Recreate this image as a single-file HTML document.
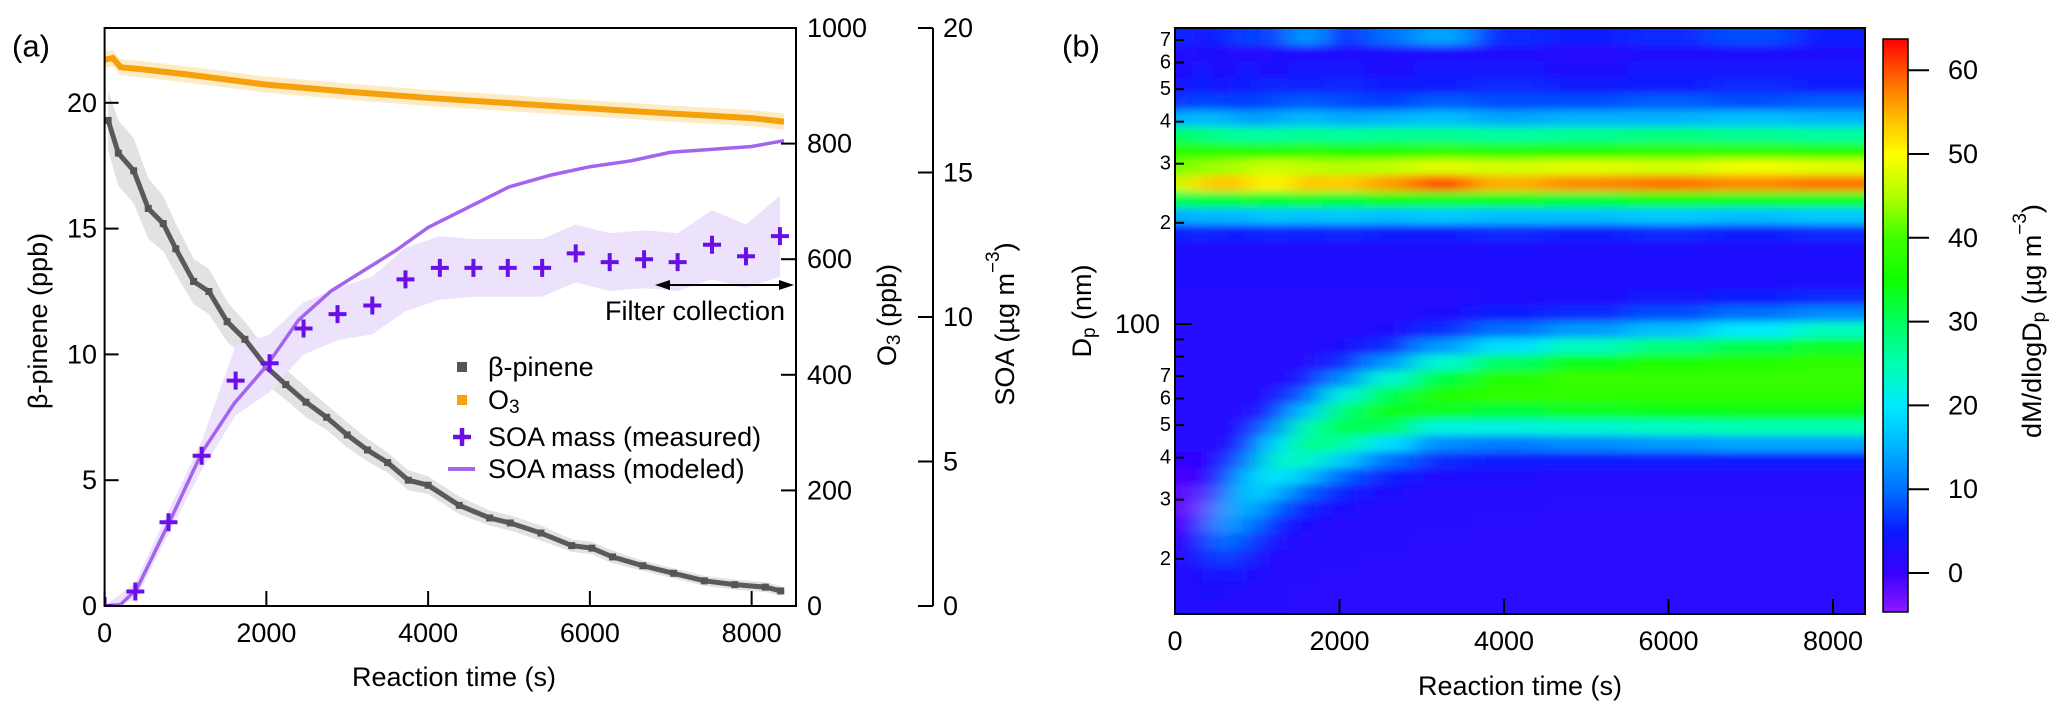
<!DOCTYPE html>
<html><head><meta charset="utf-8"><style>
html,body{margin:0;padding:0;background:#fff}
svg{display:block;font-family:"Liberation Sans",Arial,sans-serif}
</style></head><body>
<svg id="fig" width="2067" height="720" viewBox="0 0 2067 720" xmlns="http://www.w3.org/2000/svg">
<rect x="0" y="0" width="2067" height="720" fill="#fff"/>
<defs>
<clipPath id="clipL"><rect x="104.6" y="28" width="691.4" height="578"/></clipPath>
<clipPath id="clipH"><rect x="1175" y="28" width="690" height="586"/></clipPath>
<filter id="blurH" x="-5%" y="-5%" width="110%" height="110%"><feGaussianBlur stdDeviation="16 4" edgeMode="duplicate"/></filter>
<linearGradient id="cbar" x1="0" y1="1" x2="0" y2="0">
<stop offset="0" stop-color="#8c1aff"/><stop offset="0.067" stop-color="#3a00ff"/>
<stop offset="0.141" stop-color="#0a1aff"/><stop offset="0.214" stop-color="#0070ff"/>
<stop offset="0.287" stop-color="#00b4ff"/><stop offset="0.360" stop-color="#00eaff"/>
<stop offset="0.433" stop-color="#00ffb0"/><stop offset="0.507" stop-color="#00ff60"/>
<stop offset="0.580" stop-color="#10ff00"/><stop offset="0.653" stop-color="#40ff00"/>
<stop offset="0.726" stop-color="#b0ff00"/><stop offset="0.799" stop-color="#ffff00"/>
<stop offset="0.873" stop-color="#ffb000"/><stop offset="0.946" stop-color="#ff5000"/>
<stop offset="1" stop-color="#ff0000"/>
</linearGradient>
</defs>
<g id="panelA"></g>
<g id="panelB"></g>
</svg>
<script>
// ---------- Panel (a) data ----------
const pineneTimes = [44,170,360,540,725,880,1100,1290,1515,1735,2000,2240,2490,2745,3000,3250,3500,3755,4000,4385,4760,5015,5395,5775,6025,6280,6655,7035,7415,7790,8170,8360];
const pineneValues = [19.3,18.0,17.3,15.8,15.2,14.2,12.9,12.5,11.3,10.6,9.5,8.8,8.1,7.5,6.8,6.2,5.7,5.0,4.8,4.0,3.5,3.3,2.9,2.4,2.3,1.95,1.6,1.3,1.0,0.85,0.75,0.6];
const pineneUnc = [1.2,1.3,1.3,1.2,1.1,1.0,0.9,0.9,0.8,0.7,0.7,0.6,0.6,0.5,0.5,0.45,0.4,0.4,0.35,0.35,0.3,0.3,0.3,0.25,0.25,0.25,0.2,0.2,0.2,0.2,0.2,0.2];
const o3Times = [0,100,200,500,1000,2000,3000,4000,5000,6000,7000,8000,8400];
const o3Values = [945,948,932,928,920,902,890,879,870,861,852,844,838];
const o3Unc = 14;
const soaTimes = [0,380,790,1200,1620,2040,2460,2880,3310,3720,4145,4560,4985,5410,5825,6245,6670,7085,7510,7930,8350];
const soaValues = [0,0.5,2.9,5.2,7.8,8.4,9.6,10.1,10.4,11.3,11.7,11.7,11.7,11.7,12.2,11.9,12.0,11.9,12.5,12.1,12.8];
const soaSd = [0,0.3,0.4,0.5,1.2,1.0,0.9,0.9,1.0,1.1,1.1,1.0,1.0,1.0,1.0,1.0,1.0,1.0,1.2,1.1,1.4];
const modelTimes = [0,200,400,800,1200,1600,2000,2400,2800,3200,3600,4000,4500,5000,5500,6000,6500,7000,7500,8000,8400];
const modelValues = [0,0.05,0.6,2.9,5.3,7.0,8.3,9.9,10.9,11.6,12.3,13.1,13.8,14.5,14.9,15.2,15.4,15.7,15.8,15.9,16.1];
const xTicksA = [0,2000,4000,6000,8000];
const yTicksPinene = [0,5,10,15,20];
const yTicksO3 = [0,200,400,600,800,1000];
const yTicksSOA = [0,5,10,15,20];

// ---------- Panel (b) data ----------
const hmTimes = [0,300,600,900,1200,1600,2000,2600,3200,4000,5000,6000,7000,8000];
const hmDiameters = [14.5,16.2,18.1,20.2,22.6,25.3,28.3,31.6,35.3,39.5,44.2,49.4,55.2,61.7,69.0,77.1,86.3,96.4,108,120,135,151,168,188,210,235,263,294,329,367,411,459,513,574,641,717];
const hmCol0 = [2,2,2,1.5,0,-1,-2,-2,-1,1,2,2,2,2,2,2,2,2,2,2,3,3,3,5,14,30,46,42,38,30,14,6,4,3,2,6];
const hmCol1 = [3,3,3,4,3,-1,-3,-2,0,1,2,2,2,2,2,2,2,2,2,2,3,3,3,6,16,32,52,44,36,28,16,8,5,4,3,4];
const hmCol2 = [2,3,5,8,11,14,13,9,5,3,2,2,2,2,2,2,2,2,2,2,3,3,3,5,15,31,55,44,38,27,15,7,4,3,3,5];
const hmCol3 = [2,2,3,4,7,11,16,19,17,11,6,3,2,2,2,2,2,2,2,2,3,3,3,5,16,33,52,46,37,26,13,7,5,4,2,8];
const hmCol4 = [2,2,2,2,3,5,9,15,21,23,19,12,6,3,2,2,2,2,2,2,3,3,3,6,17,32,50,47,36,26,14,8,6,3,3,6];
const hmCol5 = [1.5,1.5,2,2,2,3,5,9,16,24,28,25,17,9,4,2,2,2,2,2,3,3,3,5,16,33,54,46,38,27,16,9,5,4,3,14];
const hmCol6 = [1.5,1.5,1.5,2,2,2,3,5,9,17,26,31,29,22,12,6,3,2,2,2,3,3,3,6,17,32,53,45,36,26,14,8,6,4,3,5];
const hmCol7 = [1.5,1.5,1.5,1.5,2,2,2,3,5,10,19,30,34,31,23,13,6,3,2,2,3,3,3,5,16,34,56,46,37,27,15,7,5,3,3,10];
const hmCol8 = [1.5,1.5,1.5,1.5,1.5,2,2,2,3,6,12,22,33,36,32,23,13,6,3,2,3,3,3,5,17,33,60,48,38,27,16,9,5,4,3,14];
const hmCol9 = [1.5,1.5,1.5,1.5,1.5,1.5,2,2,3,5,11,22,32,38,37,30,19,10,5,3,3,3,3,6,16,33,55,47,37,26,14,8,6,4,3,6];
const hmCol10 = [1.5,1.5,1.5,1.5,1.5,1.5,1.5,2,2,5,12,23,33,38,39,34,24,13,6,3,3,3,3,5,16,32,57,48,37,27,15,8,5,3,2,5];
const hmCol11 = [1.5,1.5,1.5,1.5,1.5,1.5,1.5,2,2,5,13,24,34,38,39,36,28,16,8,4,3,3,3,6,17,34,58,47,38,28,15,9,5,4,3,6];
const hmCol12 = [1.5,1.5,1.5,1.5,1.5,1.5,1.5,2,2,5,14,25,34,38,39,37,31,20,10,5,3,3,3,5,16,33,57,49,38,27,16,8,6,4,3,8];
const hmCol13 = [1.5,1.5,1.5,1.5,1.5,1.5,1.5,2,2,5,14,25,34,38,39,38,33,24,12,6,3,3,3,6,17,33,58,48,37,26,15,9,5,4,3,5];
const hmColumns = [hmCol0,hmCol1,hmCol2,hmCol3,hmCol4,hmCol5,hmCol6,hmCol7,hmCol8,hmCol9,hmCol10,hmCol11,hmCol12,hmCol13];
const xTicksB = [0,2000,4000,6000,8000];
const yMinorB = [20,30,40,50,60,70,80,90,200,300,400,500,600,700];
const yMinorLabels = ["2","3","4","5","6","7","","","2","3","4","5","6","7"];
const cbTicks = [0,10,20,30,40,50,60];

// ---------- helpers ----------
const NS = "http://www.w3.org/2000/svg";
function mk(tag, attrs, parent){const e=document.createElementNS(NS,tag);for(const k in attrs)e.setAttribute(k,attrs[k]);parent.appendChild(e);return e;}
const A = document.getElementById('panelA');
const B = document.getElementById('panelB');

const AX0=104.6, AX1=796, AY0=606, AY1=28;
const xA = t => AX0 + t*0.08088;
const yP = v => AY0 - v*25.16;
const yO = v => AY0 - v*0.578;
const yS = v => AY0 - v*28.9;

const gA = mk('g',{'clip-path':'url(#clipL)'},A);
let up=[],lo=[];
pineneTimes.forEach((t,i)=>{up.push(xA(t)+','+yP(pineneValues[i]+pineneUnc[i]));lo.unshift(xA(t)+','+yP(Math.max(0,pineneValues[i]-pineneUnc[i])));});
let el=mk('polygon',{points:up.concat(lo).join(' '),fill:'#e2e2e2'},gA);


up=[];lo=[];
o3Times.forEach((t,i)=>{up.push(xA(t)+','+yO(o3Values[i]+o3Unc));lo.unshift(xA(t)+','+yO(o3Values[i]-o3Unc));});
el=mk('polygon',{points:up.concat(lo).join(' '),fill:'#fdebc4'},gA);


up=[];lo=[];
soaTimes.forEach((t,i)=>{up.push(xA(t)+','+yS(soaValues[i]+soaSd[i]));lo.unshift(xA(t)+','+yS(Math.max(0,soaValues[i]-soaSd[i])));});
el=mk('polygon',{points:up.concat(lo).join(' '),fill:'#ece2fb'},gA);


el=mk('polyline',{points:o3Times.map((t,i)=>xA(t)+','+yO(o3Values[i])).join(' '),fill:'none',stroke:'#f6a10c','stroke-width':6},gA);


el=mk('polyline',{points:pineneTimes.map((t,i)=>xA(t)+','+yP(pineneValues[i])).join(' '),fill:'none',stroke:'#5a5a5a','stroke-width':5},gA);


pineneTimes.forEach((t,i)=>{
  const m=mk('rect',{x:xA(t)-3.5,y:yP(pineneValues[i])-3.5,width:7,height:7,fill:'#555'},gA);
  
  
});
el=mk('polyline',{points:modelTimes.map((t,i)=>xA(t)+','+yS(modelValues[i])).join(' '),fill:'none',stroke:'#a465ee','stroke-width':3.5,'stroke-linejoin':'round'},gA);


soaTimes.forEach((t,i)=>{
  const cx=xA(t), cy=yS(soaValues[i]);
  const m=mk('path',{d:`M${cx-9},${cy}H${cx+9}M${cx},${cy-9}V${cy+9}`,stroke:'#6a10e6','stroke-width':4,fill:'none'},gA);
  
  
});
el=mk('rect',{x:AX0,y:AY1,width:AX1-AX0,height:AY0-AY1,fill:'none',stroke:'#000','stroke-width':2},A);


xTicksA.forEach(t=>{
  const x=xA(t);
  el=mk('line',{x1:x,y1:AY0,x2:x,y2:AY0-15,stroke:'#000','stroke-width':2},A);
  
  
  el=mk('text',{x:x,y:633,'font-size':27,'text-anchor':'middle','dominant-baseline':'central'},A);
  el.textContent=t;
  
  
});
yTicksPinene.forEach(v=>{
  const y=yP(v);
  el=mk('line',{x1:AX0,y1:y,x2:AX0+14,y2:y,stroke:'#000','stroke-width':2},A);
  
  
  el=mk('text',{x:97,y:y,'font-size':27,'text-anchor':'end','dominant-baseline':'central'},A);
  el.textContent=v;
  
  
});
yTicksO3.forEach(v=>{
  const y=yO(v);
  el=mk('line',{x1:AX1,y1:y,x2:AX1-15,y2:y,stroke:'#000','stroke-width':2},A);
  
  
  el=mk('text',{x:807,y:y,'font-size':27,'text-anchor':'start','dominant-baseline':'central'},A);
  el.textContent=v;
  
  
});
el=mk('line',{x1:933,y1:yS(0),x2:933,y2:yS(20),stroke:'#000','stroke-width':2},A);


yTicksSOA.forEach(v=>{
  const y=yS(v);
  el=mk('line',{x1:933,y1:y,x2:918,y2:y,stroke:'#000','stroke-width':2},A);
  
  
  el=mk('text',{x:943,y:y,'font-size':27,'text-anchor':'start','dominant-baseline':'central'},A);
  el.textContent=v;
  
  
});

// ---------- Panel (b) ----------
const HX0=1175, HX1=1865, HY0=614, HY1=28;
const xH = t => HX0 + t*0.08225;
const yH = d => 324 - (Math.log10(d)-2)*336;
const CB0=39, CB1=612;
const yC = v => 573 - v*8.38;
const cstops=[[-4.6,[140,26,255]],[0,[58,0,255]],[5,[10,26,255]],[10,[0,112,255]],[15,[0,180,255]],[20,[0,234,255]],[25,[0,255,176]],[30,[0,255,96]],[35,[16,255,0]],[40,[64,255,0]],[45,[176,255,0]],[50,[255,255,0]],[55,[255,176,0]],[60,[255,80,0]],[63.7,[255,0,0]]];
function cmap(v){
  if(v<=cstops[0][0])return 'rgb('+cstops[0][1]+')';
  for(let i=1;i<cstops.length;i++){
    if(v<=cstops[i][0]){const a=cstops[i-1],b=cstops[i];const f=(v-a[0])/(b[0]-a[0]);
      return 'rgb('+a[1].map((c,k)=>Math.round(c+(b[1][k]-c)*f)).join(',')+')';}
  }
  return 'rgb(255,0,0)';
}
const gH = mk('g',{'clip-path':'url(#clipH)'},B);
el=mk('rect',{x:HX0,y:HY1,width:HX1-HX0,height:HY0-HY1,fill:cmap(2)},gH);


const gCells = mk('g',{filter:'url(#blurH)'},gH);
hmTimes.forEach((t,c)=>{
  const tl = c===0 ? -600 : (hmTimes[c-1]+t)/2;
  const tr = c===hmTimes.length-1 ? 9000 : (hmTimes[c+1]+t)/2;
  hmColumns[c].forEach((v,r)=>{
    const dLo = r===0 ? 10 : Math.sqrt(hmDiameters[r-1]*hmDiameters[r]);
    const dHi = r===hmDiameters.length-1 ? 1000 : Math.sqrt(hmDiameters[r+1]*hmDiameters[r]);
    const y1=yH(dHi), y2=yH(dLo);
    const cell=mk('rect',{x:xH(tl),y:y1,width:xH(tr)-xH(tl)+0.6,height:y2-y1+0.6,fill:cmap(v)},gCells);
    
    
  });
});
el=mk('rect',{x:HX0,y:HY1,width:HX1-HX0,height:HY0-HY1,fill:'none',stroke:'#000','stroke-width':2},B);


xTicksB.forEach(t=>{
  const x=xH(t);
  el=mk('line',{x1:x,y1:HY0,x2:x,y2:HY0-15,stroke:'#000','stroke-width':2},B);
  
  
  el=mk('text',{x:x,y:641,'font-size':27,'text-anchor':'middle','dominant-baseline':'central'},B);
  el.textContent=t;
  
  
});
el=mk('line',{x1:HX0,y1:yH(100),x2:HX0+17,y2:yH(100),stroke:'#000','stroke-width':2},B);


el=mk('text',{x:1160,y:yH(100),'font-size':27,'text-anchor':'end','dominant-baseline':'central'},B);
el.textContent='100';


yMinorB.forEach((d,i)=>{
  const y=yH(d);
  el=mk('line',{x1:HX0,y1:y,x2:HX0+9,y2:y,stroke:'#000','stroke-width':2},B);
  
  
  if(yMinorLabels[i]){
    el=mk('text',{x:1171,y:y,'font-size':20,'text-anchor':'end','dominant-baseline':'central'},B);
    el.textContent=yMinorLabels[i];
    
    
  }
});
el=mk('rect',{x:1883,y:CB0,width:25,height:CB1-CB0,fill:'url(#cbar)',stroke:'#000','stroke-width':1.5},B);


cbTicks.forEach(v=>{
  const y=yC(v);
  el=mk('line',{x1:1908,y1:y,x2:1929,y2:y,stroke:'#000','stroke-width':2},B);
  
  
  el=mk('text',{x:1948,y:y,'font-size':27,'text-anchor':'start','dominant-baseline':'central'},B);
  el.textContent=v;
  
  
});
</script>
<svg style="position:absolute;left:0;top:0" width="2067" height="720" viewBox="0 0 2067 720" xmlns="http://www.w3.org/2000/svg" font-family="Liberation Sans, Arial, sans-serif">
<text x="12" y="46" font-size="31" dominant-baseline="central">(a)</text>
<text x="1062" y="46" font-size="31" dominant-baseline="central">(b)</text>
<text x="38" y="321" font-size="27" text-anchor="middle" dominant-baseline="central" transform="rotate(-90 38 321)">β-pinene (ppb)</text>
<text x="887" y="315" font-size="27" text-anchor="middle" dominant-baseline="central" transform="rotate(-90 887 315)">O<tspan font-size="19" dy="7">3</tspan><tspan dy="-7"> (ppb)</tspan></text>
<text x="1005" y="324" font-size="27" text-anchor="middle" dominant-baseline="central" transform="rotate(-90 1005 324)">SOA (µg m<tspan font-size="19" dy="-12">−3</tspan><tspan dy="12">)</tspan></text>
<text x="454" y="677" font-size="27" text-anchor="middle" dominant-baseline="central">Reaction time (s)</text>
<text x="1520" y="686" font-size="27" text-anchor="middle" dominant-baseline="central">Reaction time (s)</text>
<text x="1082" y="311" font-size="27" text-anchor="middle" dominant-baseline="central" transform="rotate(-90 1082 311)">D<tspan font-size="19" dy="7">p</tspan><tspan dy="-7"> (nm)</tspan></text>
<text x="2032" y="321" font-size="27" text-anchor="middle" dominant-baseline="central" transform="rotate(-90 2032 321)">dM/dlogD<tspan font-size="19" dy="7">p</tspan><tspan dy="-7"> (µg m</tspan><tspan font-size="19" dy="-12">−3</tspan><tspan dy="12">)</tspan></text>
<g>
<line x1="662" y1="285" x2="786" y2="285" stroke="#000" stroke-width="2"/>
<polygon points="655,285 670,280 670,290" fill="#000"/>
<polygon points="794,285 779,280 779,290" fill="#000"/>
<text x="605" y="311" font-size="27" dominant-baseline="central">Filter collection</text>
</g>
<g>
<rect x="457" y="362" width="10" height="10" fill="#555"/>
<text x="488" y="367" font-size="27" dominant-baseline="central">β-pinene</text>
<rect x="457" y="395" width="10" height="10" fill="#f6a10c"/>
<text x="488" y="400" font-size="27" dominant-baseline="central">O<tspan font-size="19" dy="7">3</tspan></text>
<path d="M453,437H471M462,428V446" stroke="#6a10e6" stroke-width="4.5"/>
<text x="488" y="437" font-size="27" dominant-baseline="central">SOA mass (measured)</text>
<line x1="448" y1="469" x2="475" y2="469" stroke="#a465ee" stroke-width="4"/>
<text x="488" y="469" font-size="27" dominant-baseline="central">SOA mass (modeled)</text>
</g>
</svg>
</body></html>
